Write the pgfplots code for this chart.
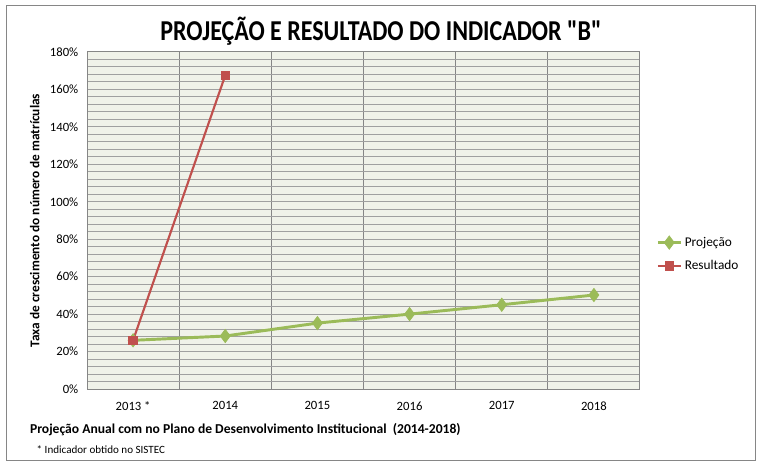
\documentclass[border=0pt]{standalone}
\usepackage{pgfplots}
\pgfplotsset{compat=1.18}
\usepackage{fontspec}
\setmainfont{Carlito}
\newfontfamily\titlefont{Carlito}
\definecolor{pgreen}{RGB}{155,187,89}
\definecolor{pred}{RGB}{192,80,77}
\definecolor{pbg}{RGB}{240,242,233}
\definecolor{pgrid}{RGB}{160,160,160}
\definecolor{pvgrid}{RGB}{134,134,134}
\begin{document}
\begin{tikzpicture}
\path[use as bounding box] (0pt,0pt) rectangle (572.25pt,351pt);
\draw[pvgrid,line width=0.75pt] (4.5pt,6pt) rectangle (566.25pt,346.5pt);
\begin{axis}[
  at={(65.25pt,59.25pt)}, anchor=south west,
  scale only axis, width=414.75pt, height=252.75pt,
  xmin=-0.5, xmax=5.5, ymin=0, ymax=180,
  axis background/.style={fill=pbg},
  axis line style={pvgrid, line width=0.75pt},
  xtick={0,1,2,3,4,5},
  xticklabels={2013 *,2014,2015,2016,2017,2018},
  minor xtick={0.5,1.5,2.5,3.5,4.5},
  ytick={0,20,...,180},
  minor ytick={4,8,...,176},
  yticklabel={\pgfmathprintnumber{\tick}\%},
  major tick length=0pt, minor tick length=0pt,
  ymajorgrids, yminorgrids, xminorgrids,
  major grid style={pgrid, line width=0.75pt},
  minor grid style={pgrid, line width=0.75pt},
  minor x grid style={pvgrid, line width=0.75pt},
  tick label style={font=\fontsize{9.5}{11}\selectfont},
  /pgf/number format/assume math mode=true,
  xticklabel style={yshift=-6pt},
  yticklabel style={xshift=-3pt},
  ylabel={Taxa de crescimento do número de matrículas},
  ylabel style={font=\bfseries\fontsize{10}{12}\selectfont, yshift=1pt},
  legend style={at={(1.022,0.40)}, anchor=west, draw=none, fill=none,
    font=\fontsize{10}{12}\selectfont, row sep=5pt},
  legend cell align=left,
  clip=false,
]
\addplot[pgreen, line width=2.2pt, mark=diamond*, mark size=5pt, mark options={fill=pgreen, line width=0.5pt}]
  coordinates {(0,26) (1,28.3) (2,35.2) (3,40) (4,45) (5,50.2)};
\addlegendentry{Projeção}
\addplot[pred, line width=1.6pt, mark=square*, mark size=3.3pt, mark options={fill=pred, line width=0.5pt}]
  coordinates {(0,26) (1,167.5)};
\addlegendentry{Resultado}
\end{axis}
\node[font=\titlefont\bfseries\fontsize{18}{20}\selectfont, yscale=1.2, transform shape] at (285.75pt,327.5pt) {PROJEÇÃO E RESULTADO DO INDICADOR "B"};
\node[font=\bfseries\fontsize{10.2}{12}\selectfont,anchor=west] at (19pt,28.5pt) {Projeção Anual com no Plano de Desenvolvimento Institucional\ \ (2014-2018)};
\node[font=\fontsize{8.3}{10}\selectfont,anchor=west] at (24pt,14pt) {* Indicador obtido no SISTEC};
\end{tikzpicture}
\end{document}
